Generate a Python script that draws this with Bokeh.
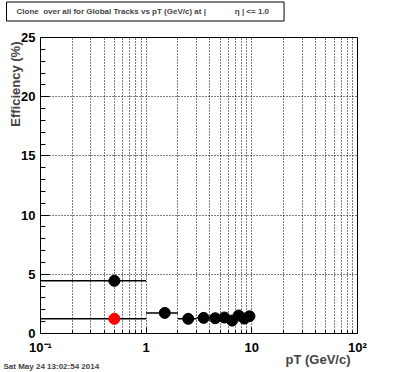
from bokeh.plotting import figure
from bokeh.models import Label, FixedTicker, SingleIntervalTicker, ColumnDataSource
from bokeh.embed import file_html
from bokeh.resources import INLINE
import math

# ---- data ----
black_pt = [0.5, 1.5, 2.5, 3.5, 4.5, 5.5, 6.5, 7.5, 8.5, 9.5]
black_lo = [0.1, 1, 2, 3, 4, 5, 6, 7, 8, 9]
black_hi = [1, 2, 3, 4, 5, 6, 7, 8, 9, 10]
black_eff = [4.45, 1.74, 1.24, 1.32, 1.29, 1.35, 1.09, 1.52, 1.26, 1.46]

red_pt = [0.5]
red_lo = [0.1]
red_hi = [1]
red_eff = [1.24]

x_major = [0.1, 1, 10, 100]
x_labels = {0.1: "10\u207b\u00b9", 1: "1", 10: "10", 100: "10\u00b2"}

FONT = "Liberation Sans"
NB = "\u00a0"

p = figure(width=396, height=372, x_axis_type="log", x_range=(0.1, 100), y_range=(0, 25),
           output_backend="svg", toolbar_location=None,
           min_border_left=40, min_border_right=39, min_border_top=37, min_border_bottom=38)
p.background_fill_color = "white"
p.border_fill_color = "white"
p.outline_line_color = "black"
p.outline_line_width = 1

minor = [m * 10 ** e for e in (-1, 0, 1) for m in range(2, 10)]
p.xaxis.ticker = FixedTicker(ticks=x_major, minor_ticks=minor)
p.xgrid.ticker = p.xaxis.ticker
p.xaxis.major_label_overrides = x_labels
p.yaxis.ticker = SingleIntervalTicker(interval=5, num_minor_ticks=5)
p.ygrid.ticker = p.yaxis.ticker

for ax in (p.xaxis, p.yaxis):
    ax.axis_line_color = "black"
    ax.major_tick_line_color = "black"
    ax.minor_tick_line_color = "black"
    ax.major_tick_out = 0
    ax.minor_tick_out = 0
    ax.major_label_text_font = FONT
    ax.major_label_text_font_style = "bold"
    ax.major_label_text_font_size = "13px"
    ax.major_label_text_color = "black"
p.xaxis.major_tick_in = 6
p.xaxis.minor_tick_in = 3
p.yaxis.major_tick_in = 9
p.yaxis.minor_tick_in = 5
p.xaxis.major_label_standoff = 6
p.yaxis.major_label_standoff = 5

p.xgrid.grid_line_color = "black"
p.xgrid.grid_line_dash = "1 2"
p.xgrid.minor_grid_line_color = "black"
p.xgrid.minor_grid_line_dash = "1 2"
p.ygrid.grid_line_color = "black"
p.ygrid.grid_line_dash = "1 2"

bsrc = ColumnDataSource(dict(x=black_pt, lo=black_lo, hi=black_hi, y=black_eff))
rsrc = ColumnDataSource(dict(x=red_pt, lo=red_lo, hi=red_hi, y=red_eff))

p.segment(x0="lo", x1="hi", y0="y", y1="y", source=bsrc, line_color="black", line_width=1.5)
p.segment(x0="lo", x1="hi", y0="y", y1="y", source=rsrc, line_color="black", line_width=1.5)
p.scatter(x="x", y="y", source=bsrc, size=11, color="black")
p.scatter(x="x", y="y", source=rsrc, size=11, color="red")

# title box (in the top panel; coordinates relative to that panel slot)
title_text = "Clone" + NB * 2 + "over all for Global Tracks vs pT (GeV/c) at |" + NB * 13 + "\u03b7 | <= 1.0"
title = Label(x=-34, y=26, x_units="screen", y_units="screen", text=title_text,
              text_align="left", text_baseline="middle",
              text_font=FONT, text_font_style="bold", text_font_size="8px",
              border_line_color="black", border_line_width=1,
              background_fill_color="white", padding=dict(left=10, right=15, top=5, bottom=5))
p.add_layout(title, "above")

date = Label(x=-37, y=-348, x_units="screen", y_units="screen", text="Sat May 24 13:02:54 2014",
             text_align="left", text_baseline="alphabetic",
             text_font=FONT, text_font_style="bold", text_font_size="8px")
p.add_layout(date, "above")

ylab = Label(x=12, y=292, x_units="screen", y_units="screen", text="Efficiency (%)",
             angle=math.pi / 2, text_align="right", text_baseline="middle",
             text_font=FONT, text_font_style="bold", text_font_size="13px")
p.add_layout(ylab, "left")

xlab = Label(x=310, y=13, x_units="screen", y_units="screen", text="pT (GeV/c)",
             text_align="right", text_baseline="alphabetic",
             text_font=FONT, text_font_style="bold", text_font_size="13px")
p.add_layout(xlab, "below")

open("out.html", "w").write(file_html(p, INLINE))
